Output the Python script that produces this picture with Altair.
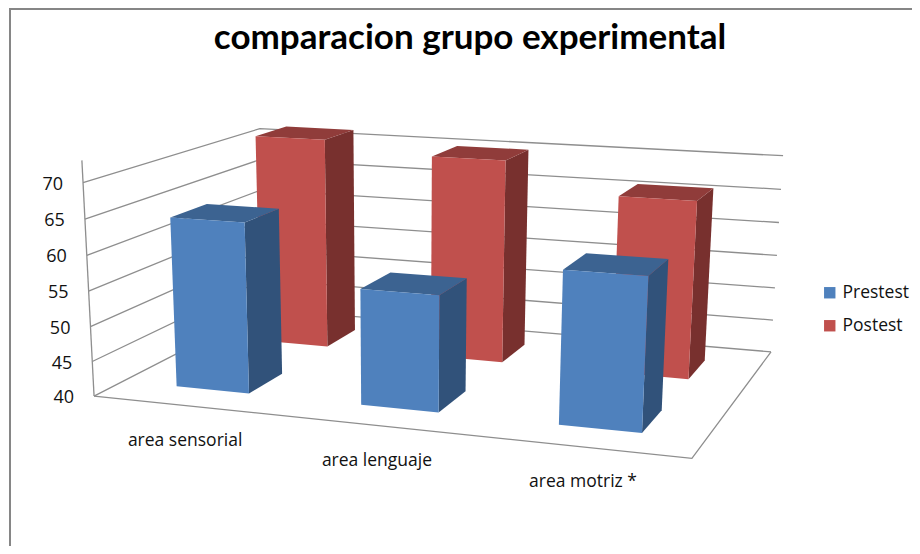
import altair as alt
import numpy as np

W, H = 904, 538
categories = ["area sensorial", "area lenguaje", "area motriz *"]
series = ["Prestest", "Postest"]
prestest = [64.3, 56.3, 61]
postest = [71.8, 70.2, 66]
ticks = [40, 45, 50, 55, 60, 65, 70]
v_min, v_span, v_stub = 40, 30, 73

front_colors = ["#4F81BD", "#C0504D"]
side_colors = ["#31527A", "#78302E"]
top_colors = ["#3C6391", "#903C3A"]

# camera calibration: (across, depth, height) box corners -> chart pixels
world_pts = [(0,0,0),(1,0,0),(1,1,0),(0,1,0),(0,0,1),(0,1,1),(1,1,1)]
img_pts = [(86,387),(684,451),(763,343),(256,302),(75,175),(252,120),(775,148)]
A = []
for (a,b,c),(x,y) in zip(world_pts, img_pts):
    A.append([a,b,c,1,0,0,0,0,-x*a,-x*b,-x*c,-x])
    A.append([0,0,0,0,a,b,c,1,-y*a,-y*b,-y*c,-y])
P = np.linalg.svd(np.array(A, float))[2][-1].reshape(3,4)

def proj(u, v, w):
    p = P @ np.array([u, v, w, 1.0])
    return [float(p[0]/p[2]), float(p[1]/p[2])]

def lvl(val):
    return (val - v_min) / v_span

def poly(corners, **props):
    ring = [proj(*c) for c in corners]
    ring.append(ring[0])
    return {"type":"Feature","properties":props,"geometry":{"type":"Polygon","coordinates":[ring]}}

def line(points):
    return {"type":"Feature","properties":{},"geometry":{"type":"LineString","coordinates":points}}

def geo(features):
    return alt.InlineData(values={"type":"FeatureCollection","features":features},
                          format=alt.DataFormat(property="features", type="json"))

half_u, half_v = 0.0667, 0.1
rows = [0.25, 0.75]
def bar_faces(s, vals):
    front, side, top = [], [], []
    v0, v1 = rows[s]-half_v, rows[s]+half_v
    for i, val in enumerate(vals):
        u = (i+0.5)/3
        u0, u1 = u-half_u, u+half_u
        h = lvl(val)
        front.append(poly([(u0,v0,0),(u1,v0,0),(u1,v0,h),(u0,v0,h)], series=series[s]))
        side.append(poly([(u1,v0,0),(u1,v1,0),(u1,v1,h),(u1,v0,h)], series=series[s]))
        top.append(poly([(u0,v0,h),(u1,v0,h),(u1,v1,h),(u0,v1,h)], series=series[s]))
    return front, side, top

canvas = alt.Chart(geo([{"type":"Feature","properties":{},"geometry":{"type":"Polygon",
          "coordinates":[[[0,0],[W,0],[W,H],[0,H],[0,0]]]}}])).mark_geoshape(fill="white", strokeWidth=0).project(type="identity")

border = alt.Chart(geo([line([[2,H],[2,1],[W,1]])])).mark_geoshape(filled=False, stroke="#868686", strokeWidth=2).project(type="identity")

grid = []
for t in ticks:
    w = lvl(t)
    grid.append(line([proj(0,0,w), proj(0,1,w), proj(1,1,w)]))
grid.append(line([proj(0,0,0), proj(1,0,0), proj(1,1,0)]))
grid.append(line([proj(0,0,0), proj(0,0,lvl(v_stub))]))
grid_layer = alt.Chart(geo(grid)).mark_geoshape(filled=False, stroke="#8E8E8E", strokeWidth=1.3).project(type="identity")

color = alt.Color("properties.series:N", scale=alt.Scale(domain=series, range=front_colors),
                  legend=alt.Legend(title=None, orient="none", legendX=813, legendY=276,
                                    symbolType="square", symbolSize=130, symbolStrokeWidth=0,
                                    labelFont="Open Sans", labelFontSize=17.5, labelColor="#111111",
                                    rowPadding=14, labelOffset=4))

bars = []
for s, vals in [(1, postest), (0, prestest)]:
    f, d, t = bar_faces(s, vals)
    bars.append(alt.Chart(geo(d)).mark_geoshape(fill=side_colors[s], strokeWidth=0).project(type="identity"))
    bars.append(alt.Chart(geo(t)).mark_geoshape(fill=top_colors[s], strokeWidth=0).project(type="identity"))
    bars.append(alt.Chart(geo(f)).mark_geoshape(strokeWidth=0).encode(color=color).project(type="identity"))

xs = alt.Scale(domain=[0, W])
ys = alt.Scale(domain=[H, 0])
tick_rows = [{"label": str(t), "x": proj(0,0,lvl(t))[0]-20, "y": proj(0,0,lvl(t))[1]+2} for t in ticks]
tick_layer = alt.Chart(alt.Data(values=tick_rows)).mark_text(font="Open Sans", fontSize=18, align="right", baseline="middle", color="#111111").encode(
    x=alt.X("x:Q", scale=xs, axis=None), y=alt.Y("y:Q", scale=ys, axis=None), text="label:N")
cat_rows = [{"label": c, "x": proj((i+0.5)/3,0,0)[0]+0, "y": proj((i+0.5)/3,0,0)[1]+35} for i, c in enumerate(categories)]
cat_layer = alt.Chart(alt.Data(values=cat_rows)).mark_text(font="Open Sans", fontSize=17.5, align="center", baseline="middle", color="#111111").encode(
    x=alt.X("x:Q", scale=xs, axis=None), y=alt.Y("y:Q", scale=ys, axis=None), text="label:N")

chart = alt.layer(canvas, border, grid_layer, *bars, tick_layer, cat_layer).resolve_scale(color="shared").properties(
    width=W, height=H, padding=0, autosize=alt.AutoSizeParams(type="none"),
    background="white",
    title=alt.TitleParams("comparacion grupo experimental", font="Lato", fontSize=35, fontWeight="bold",
                          color="#000000", anchor="middle", frame="group", dx=10, offset=-51),
).configure_view(stroke=None)

chart.save("out.html", embed_options={"renderer": "svg", "actions": False})
